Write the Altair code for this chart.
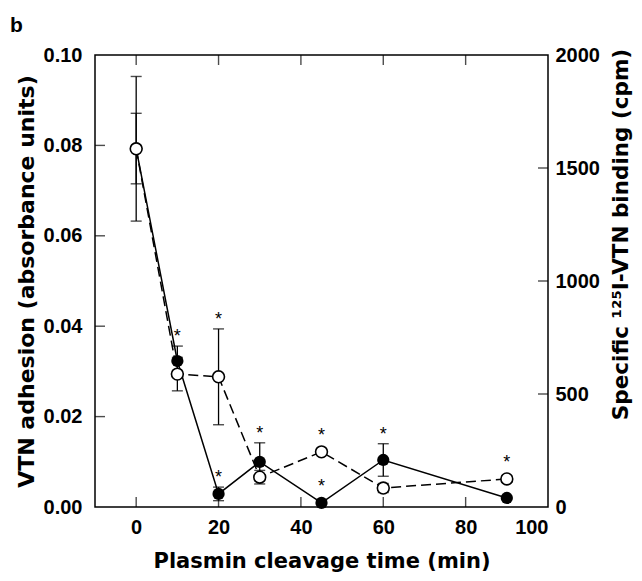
import altair as alt
import pandas as pd

# ---- data ----
times = [0, 10, 20, 30, 45, 60, 90]
adhesion = [0.0793, 0.0323, 0.0029, 0.0100, 0.0009, 0.0104, 0.0020]
adhesion_err = [0.0078, 0.0033, 0.0015, 0.0042, 0.0, 0.0036, 0.0]
adhesion_sig = [0, 1, 1, 1, 1, 1, 0]
binding = [1585, 588, 576, 132, 244, 84, 124]
binding_err = [320, 74, 212, 30, 0, 20, 15]
binding_sig = [0, 0, 1, 0, 1, 0, 1]

x_labels = [0, 20, 40, 60, 80, 100]
x_inner_ticks = [0, 20, 40, 60, 80]
left_labels = [0.0, 0.02, 0.04, 0.06, 0.08, 0.10]
left_inner_ticks = [0.02, 0.04, 0.06, 0.08]
right_labels = [0, 500, 1000, 1500, 2000]
right_inner_ticks = [500, 1000, 1500]
panel_label = ["b"]

W, H = 453, 452
FONT = "Liberation Sans"
TFONT = "DejaVu Sans"

adh = pd.DataFrame({"t": times, "v": adhesion, "e": adhesion_err, "s": adhesion_sig})
bnd = pd.DataFrame({"t": times, "v": binding, "e": binding_err, "s": binding_sig})

xs = alt.Scale(domain=[-10, 100], nice=False, zero=False)
ls = alt.Scale(domain=[0, 0.1], nice=False, zero=False)
rs = alt.Scale(domain=[0, 2000], nice=False, zero=False)

x_axis = alt.Axis(values=x_labels, title="Plasmin cleavage time (min)", labelPadding=10,
                  titlePadding=13, titleFontSize=21)
left_axis = alt.Axis(values=left_labels, format=".2f", title="VTN adhesion (absorbance units)",
                     labelPadding=13, titlePadding=5, titleFontSize=22)
right_axis = alt.Axis(values=right_labels, format="d", orient="right",
                      title="Specific ¹²⁵I-VTN binding (cpm)",
                      labelPadding=7, titlePadding=11, titleAngle=270, titleBaseline="top",
                      titleY=179, titleFontSize=21.5)


def X(field="t"):
    return alt.X(f"{field}:Q", scale=xs, axis=x_axis)


def series(df, scale, axis, r_data, filled, dash):
    def Y(field):
        return alt.Y(f"{field}:Q", scale=scale, axis=axis)
    base = alt.Chart(df)
    line_kw = dict(color="black", strokeWidth=1.5)
    if dash:
        line_kw["strokeDash"] = dash
    line = base.mark_line(**line_kw).encode(x=X(), y=Y("v"))
    eb = base.transform_filter("datum.e > 0").transform_calculate(
        lo="datum.v - datum.e", hi="datum.v + datum.e")
    rule = eb.mark_rule(color="black", strokeWidth=1.3).encode(x=X(), y=Y("lo"), y2="hi:Q")
    cap_hi = eb.mark_tick(orient="horizontal", size=11, thickness=1.4, color="black").encode(
        x=X(), y=Y("hi"))
    cap_lo = eb.mark_tick(orient="horizontal", size=11, thickness=1.4, color="black").encode(
        x=X(), y=Y("lo"))
    if filled:
        pts = base.mark_point(shape="circle", filled=True, size=150, color="black", opacity=1).encode(
            x=X(), y=Y("v"))
    else:
        pts = base.mark_point(shape="circle", filled=True, size=140, fill="white", stroke="black",
                              strokeWidth=1.6, opacity=1).encode(x=X(), y=Y("v"))
    stars = base.transform_filter("datum.s == 1").transform_calculate(
        top=f"datum.v + max(datum.e, {r_data})").mark_text(
        text="*", font=FONT, fontSize=18, baseline="alphabetic", dy=-4, color="black").encode(
        x=X(), y=Y("top"))
    return [line, rule, cap_hi, cap_lo, pts, stars]


left_layers = series(adh, ls, left_axis, 0.00155, True, None)
right_layers = series(bnd, rs, right_axis, 31, False, [10, 5])

# inward ticks
tick_kw = dict(color="black", thickness=1.4, size=10)
lt = alt.Chart(pd.DataFrame({"y": left_inner_ticks})).mark_tick(orient="horizontal", **tick_kw).encode(
    x=alt.value(5), y=alt.Y("y:Q", scale=ls, axis=left_axis))
rt = alt.Chart(pd.DataFrame({"y": right_inner_ticks})).mark_tick(orient="horizontal", **tick_kw).encode(
    x=alt.value(W - 5), y=alt.Y("y:Q", scale=rs, axis=right_axis))
xdf = pd.DataFrame({"t": x_inner_ticks})
bt = alt.Chart(xdf).mark_tick(orient="vertical", **tick_kw).encode(x=X(), y=alt.value(H - 5))
tt = alt.Chart(xdf).mark_tick(orient="vertical", **tick_kw).encode(x=X(), y=alt.value(5))

# panel letter
pl = alt.Chart(pd.DataFrame({"lab": panel_label})).mark_text(
    font=FONT, fontSize=21, fontWeight="bold", align="left", baseline="alphabetic", color="black"
).encode(text="lab:N", x=alt.value(-85), y=alt.value(-23))

left = alt.layer(*left_layers, lt, bt, tt, pl)
right = alt.layer(*right_layers, rt)

chart = alt.layer(left, right).resolve_scale(y="independent").properties(
    width=W, height=H,
    autosize=alt.AutoSizeParams(type="none"),
    padding={"left": 87, "top": 47, "right": 86, "bottom": 66},
).configure_view(stroke="black", strokeWidth=1.5).configure_axis(
    labelFont=FONT, labelFontWeight="bold", labelFontSize=20, labelColor="black",
    titleFont=TFONT, titleFontWeight="bold", titleColor="black",
    domain=False, ticks=False, tickSize=0, grid=False,
)

chart.save("out.html", embed_options={"renderer": "svg", "actions": False})
